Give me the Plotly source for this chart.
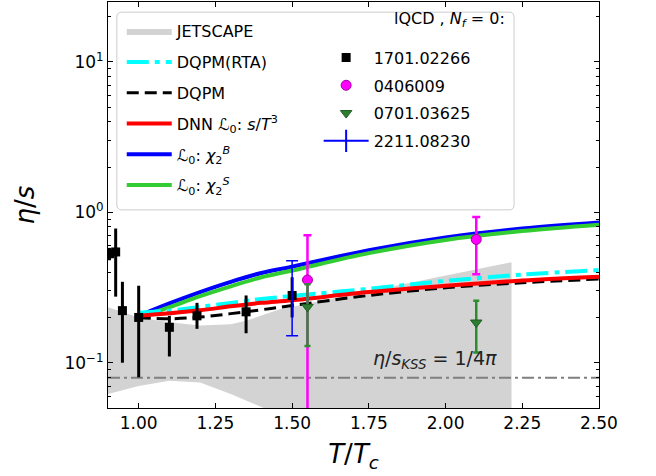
import plotly.graph_objects as go

# ---------------- data ----------------
T_curve = [1.0, 1.1, 1.2, 1.3, 1.4, 1.5, 1.75, 2.0, 2.25, 2.5]
dnn_s = [0.205, 0.213, 0.223, 0.237, 0.250, 0.260, 0.295, 0.325, 0.352, 0.373]
dqpm = [0.200, 0.196, 0.201, 0.212, 0.225, 0.240, 0.280, 0.315, 0.340, 0.360]
dqpm_rta = [0.215, 0.222, 0.235, 0.250, 0.265, 0.278, 0.310, 0.350, 0.385, 0.413]
chi2B = [0.205, 0.248, 0.295, 0.345, 0.395, 0.435, 0.560, 0.680, 0.780, 0.857]
chi2S = [0.200, 0.234, 0.277, 0.322, 0.370, 0.410, 0.535, 0.655, 0.750, 0.826]

T_jet = [0.9, 1.0, 1.1, 1.2, 1.3, 1.35, 1.46, 1.75, 2.0, 2.215]
jet_hi = [0.234, 0.200, 0.186, 0.177, 0.180, 0.190, 0.227, 0.300, 0.380, 0.466]
jet_lo = [0.062, 0.070, 0.076, 0.074, 0.062, 0.056, 0.045, 0.030, 0.030, 0.030]

kss = 0.0796  # 1/(4 pi)

T_1701 = [0.905, 0.925, 0.947, 1.0, 1.1, 1.19, 1.35, 1.5]
v_1701 = [0.53, 0.545, 0.222, 0.200, 0.172, 0.205, 0.218, 0.280]
hi_1701 = [0.58, 0.78, 0.345, 0.325, 0.205, 0.250, 0.280, 0.370]
lo_1701 = [0.48, 0.275, 0.100, 0.080, 0.110, 0.168, 0.157, 0.200]

T_0406 = [1.55, 2.1]
v_0406 = [0.355, 0.66]
hi_0406 = [0.705, 0.93]
lo_0406 = [0.0001, 0.388]

T_0701 = [1.55, 2.1]
v_0701 = [0.235, 0.185]
hi_0701 = [0.333, 0.258]
lo_0701 = [0.129, 0.117]

T_2211 = [1.5]
v_2211 = [0.27]
hi_2211 = [0.476]
lo_2211 = [0.151]

x_ticks = [1.0, 1.25, 1.5, 1.75, 2.0, 2.25, 2.5]
x_ticktext = ["1.00", "1.25", "1.50", "1.75", "2.00", "2.25", "2.50"]
y_ticks = [0.1, 1, 10]
y_ticktext = ["10<sup>−1</sup>", "10<sup>0</sup>", "10<sup>1</sup>"]

FONT = "DejaVu Sans"

def plus(v, hi):
    return [h - a for a, h in zip(v, hi)]

def minus(v, lo):
    return [a - l for a, l in zip(v, lo)]

fig = go.Figure()

# JETSCAPE band
fig.add_trace(go.Scatter(
    x=T_jet + T_jet[::-1], y=jet_hi + jet_lo[::-1], fill="toself",
    fillcolor="#d3d3d3", line=dict(width=0), mode="lines",
    name="JETSCAPE", legend="legend", legendgroup="a1", legendrank=1))

# KSS line
fig.add_trace(go.Scatter(x=[0.9, 2.5], y=[kss, kss], mode="lines",
                         line=dict(color="#808080", width=2, dash="12px,4px,3px,4px"),
                         showlegend=False))

curves = {
    "rta": ("DQPM(RTA)", dqpm_rta, "#00ffff", 4, "22px,6px,5px,6px", "a2", 2),
    "dqpm": ("DQPM", dqpm, "black", 3, "12px,6px", "a3", 3),
    "dnn": ("DNN <i>ℒ</i><sub>0</sub>: <i>s</i>/<i>T</i><sup>3</sup>", dnn_s, "#ff0000", 4, "solid", "a4", 4),
    "b": ("<i>ℒ</i><sub>0</sub>: <i>χ</i><sub>2</sub><sup><i>B</i></sup>", chi2B, "#0000ff", 4, "solid", "a5", 5),
    "s": ("<i>ℒ</i><sub>0</sub>: <i>χ</i><sub>2</sub><sup><i>S</i></sup>", chi2S, "#32cd32", 4, "solid", "a6", 6),
}
for key in ["b", "s", "rta", "dqpm", "dnn"]:
    name, ys, col, w, dash, g, rank = curves[key]
    fig.add_trace(go.Scatter(x=T_curve, y=ys, mode="lines", line_shape="spline",
                             line=dict(color=col, width=w, dash=dash),
                             name=name, legend="legend", legendgroup=g, legendrank=rank))

# lattice data
fig.add_trace(go.Scatter(
    x=T_1701, y=v_1701, mode="markers", name="1701.02266",
    marker=dict(symbol="square", size=9, color="black"),
    error_y=dict(type="data", array=plus(v_1701, hi_1701), arrayminus=minus(v_1701, lo_1701),
                 color="black", thickness=3, width=0),
    legend="legend2", legendgroup="b1", legendrank=1))
fig.add_trace(go.Scatter(
    x=T_0406, y=v_0406, mode="markers", name="0406009",
    marker=dict(symbol="circle", size=10, color="#ff00ff", line=dict(color="#a000a0", width=1)),
    error_y=dict(type="data", array=plus(v_0406, hi_0406), arrayminus=minus(v_0406, lo_0406),
                 color="#ff00ff", thickness=2.5, width=4),
    legend="legend2", legendgroup="b2", legendrank=2))
fig.add_trace(go.Scatter(
    x=T_0701, y=v_0701, mode="markers", name="0701.03625",
    marker=dict(symbol="triangle-down", size=10, color="#2e7d32", line=dict(color="#1b5e20", width=1)),
    error_y=dict(type="data", array=plus(v_0701, hi_0701), arrayminus=minus(v_0701, lo_0701),
                 color="#2e8b2e", thickness=2.5, width=3),
    legend="legend2", legendgroup="b3", legendrank=3))
fig.add_trace(go.Scatter(
    x=T_2211, y=v_2211, mode="markers", showlegend=False,
    marker=dict(size=1, color="rgba(0,0,0,0)"),
    error_y=dict(type="data", array=plus(v_2211, hi_2211), arrayminus=minus(v_2211, lo_2211),
                 color="#0000ff", thickness=1.5, width=6)))
fig.add_trace(go.Scatter(
    x=[None], y=[None], mode="lines+markers", name="2211.08230",
    line=dict(color="#0000ff", width=2),
    marker=dict(symbol="line-ns-open", size=16, color="#0000ff", line=dict(color="#0000ff", width=2)),
    legend="legend2", legendgroup="b4", legendrank=4))

# legend frame (rounded)
PW, PH = 491.0, 406.0
x0, x1, y0, y1 = 0.018, 0.827, 0.488, 0.975
rx, ry = 5 / PW, 5 / PH
path = (f"M {x0+rx},{y0} L {x1-rx},{y0} Q {x1},{y0} {x1},{y0+ry} L {x1},{y1-ry} "
        f"Q {x1},{y1} {x1-rx},{y1} L {x0+rx},{y1} Q {x0},{y1} {x0},{y1-ry} "
        f"L {x0},{y0+ry} Q {x0},{y0} {x0+rx},{y0} Z")
fig.add_shape(type="path", path=path, xref="paper", yref="paper",
              line=dict(color="#cccccc", width=1), fillcolor="rgba(255,255,255,0.8)", layer="below")

fig.add_annotation(xref="paper", yref="paper", x=0.813, y=0.957, xanchor="right", yanchor="middle",
                   text="lQCD , <i>N</i><sub><i>f</i></sub> = 0:", showarrow=False,
                   font=dict(family=FONT, size=16, color="black"))

fig.add_annotation(x=1.964, y=-0.976, xref="x", yref="y",
                   text="<i>η</i>/<i>s</i><sub><i>KSS</i></sub> = 1/4<i>π</i>",
                   showarrow=False, font=dict(family=FONT, size=19, color="#222222"))

axis_common = dict(showline=True, linecolor="black", linewidth=1, mirror="ticks",
                   ticks="inside", ticklen=5, tickcolor="black", showgrid=False, zeroline=False,
                   tickfont=dict(family=FONT, size=17, color="black"))

fig.update_layout(
    width=656, height=476,
    margin=dict(l=108, r=57, t=2, b=68),
    paper_bgcolor="white", plot_bgcolor="white",
    font=dict(family=FONT, color="black"),
    xaxis=dict(range=[0.9, 2.5], tickvals=x_ticks, ticktext=x_ticktext,
               title=dict(text="<i>T</i>/<i>T</i><sub><i>c</i></sub>", font=dict(family=FONT, size=26), standoff=12),
               **axis_common),
    yaxis=dict(type="log", range=[-1.301, 1.398], tickvals=y_ticks, ticktext=y_ticktext,
               title=dict(text="<i>η</i>/<i>s</i>", font=dict(family=FONT, size=26), standoff=22),
               minor=dict(ticks="inside", ticklen=3, tickcolor="black",
                          tickvals=[0.06, 0.07, 0.08, 0.09, 0.2, 0.3, 0.4, 0.5, 0.6, 0.7, 0.8, 0.9,
                                    2, 3, 4, 5, 6, 7, 8, 9, 20]),
               **axis_common),
    legend=dict(x=0.028, y=0.97, xanchor="left", yanchor="top", bgcolor="rgba(0,0,0,0)",
                font=dict(family=FONT, size=16, color="black"), tracegroupgap=7,
                traceorder="grouped", itemwidth=45),
    legend2=dict(x=0.429, y=0.905, xanchor="left", yanchor="top", bgcolor="rgba(0,0,0,0)",
                 font=dict(family=FONT, size=16, color="black"), tracegroupgap=4,
                 traceorder="grouped", itemwidth=45),
)

fig.write_html("out.html")
